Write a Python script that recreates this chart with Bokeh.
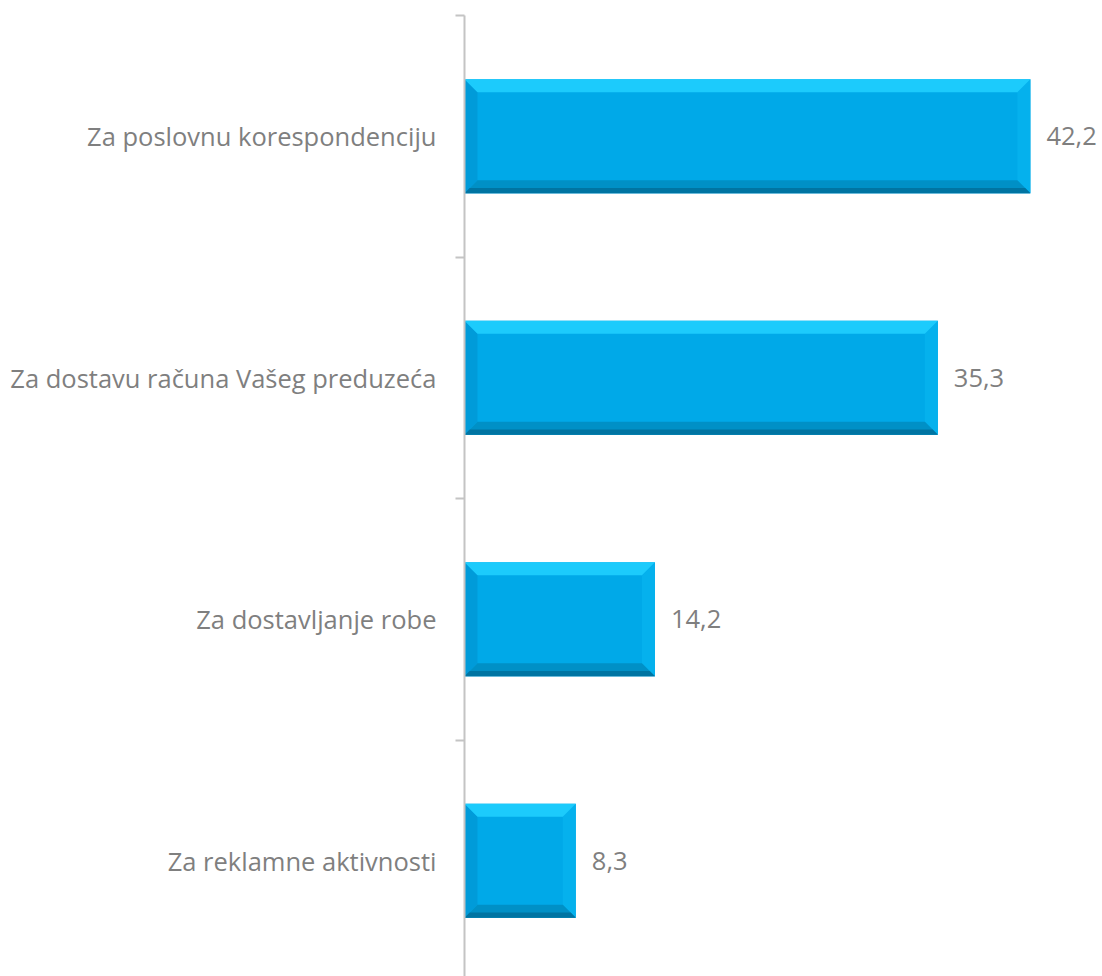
from bokeh.plotting import figure
from bokeh.models import (ColumnDataSource, Range1d, LinearAxis, FixedTicker, LabelSet)
from bokeh.core.properties import value
from bokeh.embed import file_html
from bokeh.resources import INLINE

# ---- data ----
categories = ["Za poslovnu korespondenciju",
              "Za dostavu računa Vašeg preduzeća",
              "Za dostavljanje robe",
              "Za reklamne aktivnosti"]
values = [42.2, 35.3, 14.2, 8.3]
value_labels = ["42,2", "35,3", "14,2", "8,3"]

# ---- layout ----
W, H = 1102, 976
LEFT, TOP = 464, 15
FRAME_W = W - LEFT
FRAME_H = H - TOP
PX_PER_UNIT = 13.41
X_END = FRAME_W / PX_PER_UNIT
PX_PER_CAT = 241.5
n = len(categories)
Y_END = float(n)
Y_START = Y_END - FRAME_H / PX_PER_CAT
BAR_H = 0.472

ypos = [n - i - 0.5 for i in range(n)]
src = ColumnDataSource(dict(y=ypos, right=values, cat=categories, lab=value_labels,
                            left=[0] * n))

p = figure(width=W, height=H, output_backend="svg", toolbar_location=None,
           x_range=Range1d(0, X_END), y_range=Range1d(Y_START, Y_END),
           x_axis_location=None, y_axis_location=None,
           min_border_left=LEFT, min_border_right=0, min_border_top=TOP,
           min_border_bottom=0)
p.outline_line_color = None
p.xgrid.visible = False
p.ygrid.visible = False
p.background_fill_color = "white"

FONT = "Open Sans"
FSIZE = "25.5px"
GREY = "#7f7f7f"

# category axis: labels at centres, boundary ticks as minor ticks
ax = LinearAxis(ticker=FixedTicker(ticks=ypos, minor_ticks=list(range(1, n + 1))))
ax.major_label_overrides = {y: c for y, c in zip(ypos, categories)}
ax.axis_line_color = "#c4c4c4"
ax.axis_line_width = 2
ax.major_tick_line_color = None
ax.major_tick_out = 0
ax.major_tick_in = 0
ax.minor_tick_line_color = "#c4c4c4"
ax.minor_tick_line_width = 2
ax.minor_tick_out = 9
ax.minor_tick_in = 0
ax.major_label_standoff = 19
ax.major_label_text_font = FONT
ax.major_label_text_font_size = FSIZE
ax.major_label_text_color = GREY
p.add_layout(ax, "left")

# ---- bevelled bars ----
bx = 13.0 / PX_PER_UNIT               # bevel width in x units
by = 13.0 / PX_PER_CAT                # bevel height in y units

top_xs, top_ys, bot_xs, bot_ys, lft_xs, lft_ys, rgt_xs, rgt_ys = ([] for _ in range(8))
edge_xs, edge_ys = [], []
for y, v in zip(ypos, values):
    t, b = y + BAR_H / 2, y - BAR_H / 2
    top_xs.append([0, v, v - bx, bx]); top_ys.append([t, t, t - by, t - by])
    bot_xs.append([0, v, v - bx, bx]); bot_ys.append([b, b, b + by, b + by])
    lft_xs.append([0, bx, bx, 0]); lft_ys.append([t, t - by, b + by, b])
    rgt_xs.append([v, v - bx, v - bx, v]); rgt_ys.append([t, t - by, b + by, b])
    edge_xs.append([0, v, v - bx * 0.4, bx * 0.4]); edge_ys.append([b, b, b + by * 0.4, b + by * 0.4])

p.hbar(y="y", left="left", right="right", height=BAR_H, source=src,
       fill_color="#00a9e8", line_color=None)
p.patches(lft_xs, lft_ys, fill_color="#009bd9", line_color=None)
p.patches(rgt_xs, rgt_ys, fill_color="#05b1ed", line_color=None)
p.patches(top_xs, top_ys, fill_color="#1ccbfc", line_color=None)
p.patches(bot_xs, bot_ys, fill_color="#0090c6", line_color=None)
p.patches(edge_xs, edge_ys, fill_color="#0074a2", line_color=None)

vl = LabelSet(x="right", y="y", text="lab", source=src, x_offset=16,
              text_align="left", text_baseline="middle",
              text_font=value(FONT), text_font_size=FSIZE, text_color=GREY)
p.add_layout(vl)

open("out.html", "w").write(file_html(p, INLINE))
